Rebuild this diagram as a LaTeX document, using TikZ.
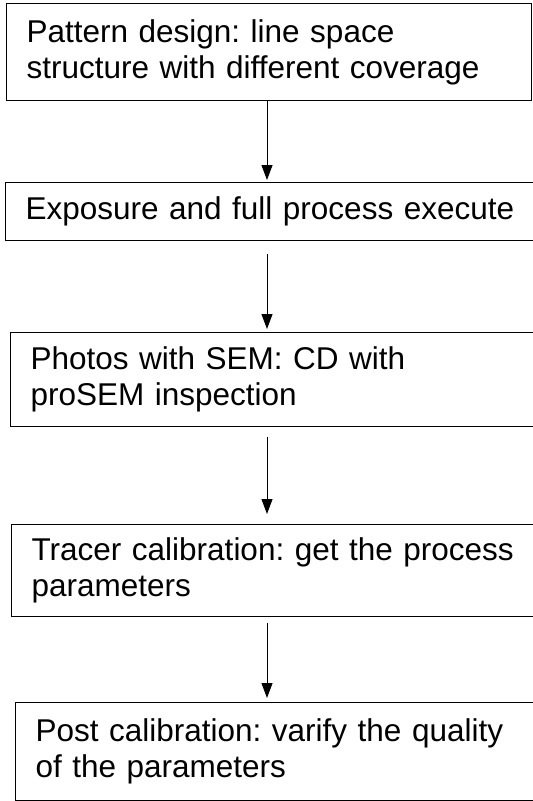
\documentclass[tikz,border=0pt]{standalone}
\usepackage{fontspec}
\setmainfont{Liberation Sans}
\usetikzlibrary{arrows.meta}
\frenchspacing

\begin{document}
\begin{tikzpicture}[x=1pt,y=-1pt]

\def\gap{20pt}
\tikzstyle{stepbox} = [
	draw, line width=1.3pt, rectangle, anchor=north west,
	align=left, inner xsep=\gap, inner ysep=0pt,
	font=\fontsize{31.5}{36}\selectfont ];
\tikzstyle{flow} = [-{Triangle[length=15pt,width=11pt]}, line width=0.9pt];

\useasboundingbox (0,0) rectangle (533,801);
\clip (0,0) rectangle (533,801);

\node[stepbox, text width=485pt, minimum height=97pt] (design) at (6,3)
	{Pattern design: line space\\structure with different coverage};
\node[stepbox, text width=560pt, minimum height=58pt] (expose) at (5,182)
	{Exposure and full process execute};
\node[stepbox, text width=560pt, minimum height=94pt] (photo) at (10,332)
	{Photos with SEM: CD with\\proSEM inspection};
\node[stepbox, text width=560pt, minimum height=92pt] (tracer) at (11,524)
	{Tracer calibration: get the process\\parameters};
\node[stepbox, text width=560pt, minimum height=98pt] (post) at (15,702)
	{Post calibration: varify the quality\\of the parameters};

\coordinate (spine) at (267,0);
\draw[flow, shorten >=2pt] (design.south -| spine) -- (expose.north -| spine);
\draw[flow, shorten <=13pt, shorten >=3pt] (expose.south -| spine) -- (photo.north -| spine);
\draw[flow, shorten <=10pt, shorten >=10pt] (photo.south -| spine) -- (tracer.north -| spine);
\draw[flow, shorten <=6pt, shorten >=4pt] (tracer.south -| spine) -- (post.north -| spine);

\end{tikzpicture}
\end{document}
